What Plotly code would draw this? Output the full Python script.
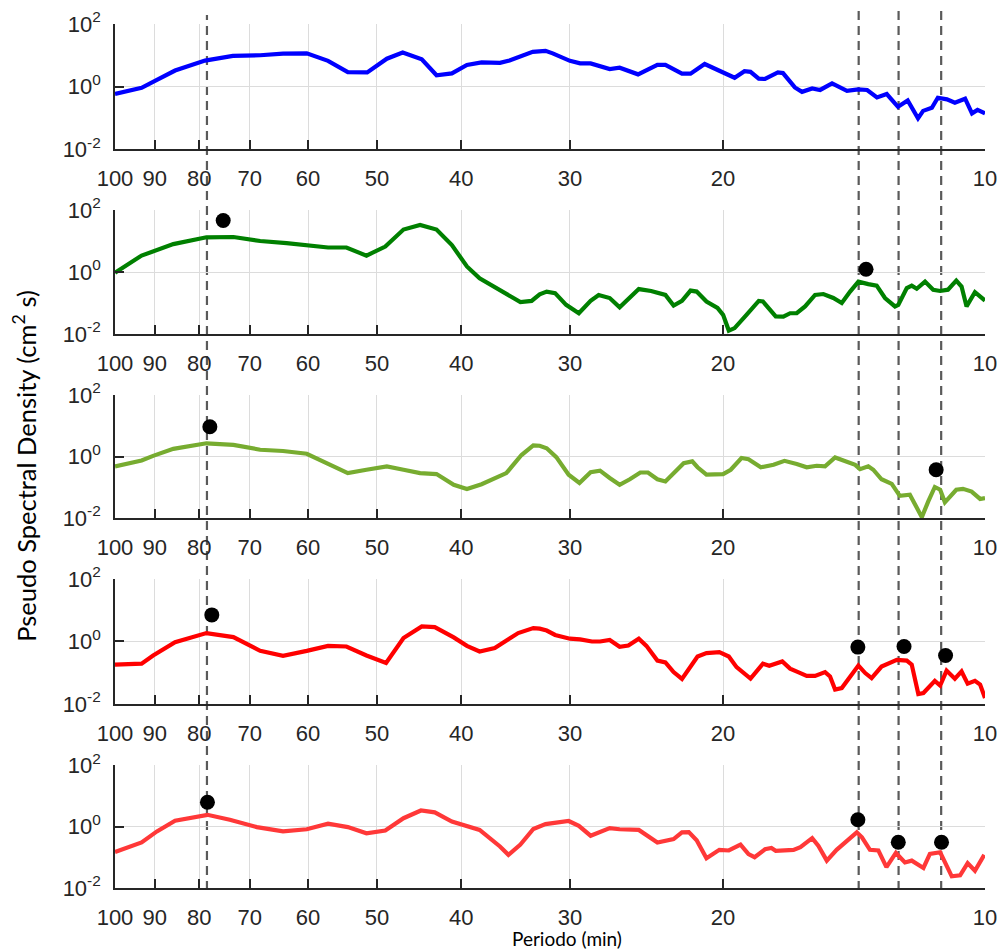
import plotly.graph_objects as go

# ---------------- data (period in min, PSD in cm^2 s) ----------------
p1_period = [100, 93.2, 89.5, 85.3, 78.8, 73.2, 68.1, 64.1, 60.2, 56.9, 54.0, 51.3, 48.7, 46.7, 44.4,
             42.7, 41.0, 39.4, 37.9, 36.1, 35.2, 33.1, 32.0, 31.4, 30.0, 29.2, 28.4, 27.0, 26.3, 25.05,
             23.8, 23.3, 22.3, 21.8, 21.0, 20.05, 19.4, 18.9, 18.6, 18.2, 17.9, 17.3, 17.07, 16.54, 16.23,
             15.8, 15.47, 14.99, 14.41, 13.99, 13.66, 13.31, 12.97, 12.59, 12.27, 11.94, 11.78, 11.51,
             11.33, 11.06, 10.83, 10.54, 10.35, 10.20, 10.0]
p1_psd = [0.575, 0.912, 1.62, 3.24, 6.76, 9.55, 10.0, 11.2, 11.5, 6.61, 2.88, 2.82, 7.76, 12.3, 7.41,
          2.29, 2.63, 4.90, 5.89, 5.75, 6.76, 12.9, 13.8, 11.5, 6.61, 5.50, 5.50, 3.63, 3.98, 2.45,
          4.90, 4.90, 2.57, 2.57, 5.25, 2.95, 1.91, 3.09, 2.95, 1.78, 1.74, 2.82, 2.69, 0.933, 0.676,
          0.871, 0.776, 1.26, 0.724, 0.813, 0.776, 0.447, 0.575, 0.224, 0.355, 0.0955, 0.166, 0.209,
          0.437, 0.389, 0.302, 0.407, 0.138, 0.178, 0.138]

p2_period = [100, 93.2, 85.7, 78.5, 73.1, 68.1, 63.5, 60.2, 56.9, 54.2, 51.4, 48.9, 46.6, 44.6, 42.7,
             41.0, 39.4, 38.1, 36.1, 34.2, 33.2, 32.5, 31.9, 31.2, 30.3, 29.3, 28.4, 27.8, 27.0, 26.3,
             25.0, 24.2, 23.3, 22.8, 22.3, 21.8, 21.45, 20.9, 20.3, 20.0, 19.7, 19.4, 18.8, 18.2, 18.0,
             17.4, 17.05, 16.75, 16.46, 16.1, 15.68, 15.34, 14.94, 14.61, 14.29, 13.98, 13.62, 13.32,
             13.03, 12.69, 12.58, 12.30, 12.14, 11.98, 11.72, 11.47, 11.26, 11.03, 10.79, 10.64, 10.50,
             10.27, 10.0]
p2_psd = [0.955, 3.39, 7.94, 13.2, 13.5, 10.0, 8.51, 7.08, 6.17, 6.17, 3.39, 6.61, 23.4, 33.1, 23.4,
          7.41, 1.51, 0.631, 0.269, 0.107, 0.117, 0.191, 0.234, 0.209, 0.0871, 0.0468, 0.117, 0.182,
          0.145, 0.0724, 0.282, 0.245, 0.182, 0.0832, 0.117, 0.251, 0.234, 0.112, 0.0692, 0.0417,
          0.0129, 0.0155, 0.0417, 0.117, 0.112, 0.0372, 0.0363, 0.0468, 0.0468, 0.0776, 0.182, 0.195,
          0.145, 0.100, 0.234, 0.490, 0.407, 0.363, 0.145, 0.0776, 0.0871, 0.302, 0.363, 0.288, 0.490,
          0.269, 0.245, 0.269, 0.525, 0.339, 0.0776, 0.224, 0.120]

p3_period = [100, 93.2, 90.4, 85.7, 78.5, 73.1, 68.1, 64.1, 60.2, 57.1, 54.0, 51.4, 48.7, 46.6, 44.6,
             42.7, 40.8, 39.4, 37.9, 35.5, 34.1, 33.05, 32.5, 31.9, 31.1, 30.1, 29.25, 28.4, 27.7, 27.0,
             26.3, 25.6, 24.9, 24.4, 23.8, 23.3, 22.8, 22.2, 21.7, 21.4, 20.9, 20.4, 20.0, 19.6, 19.05,
             18.7, 18.1, 17.5, 17.0, 16.46, 16.03, 15.61, 15.27, 14.87, 14.55, 14.10, 13.92, 13.62,
             13.44, 13.15, 12.80, 12.53, 12.20, 11.82, 11.62, 11.42, 11.26, 11.12, 10.79, 10.60, 10.36,
             10.13, 10.0]
p3_psd = [0.479, 0.741, 1.05, 1.78, 2.69, 2.40, 1.66, 1.51, 1.23, 0.603, 0.288, 0.372, 0.479, 0.372,
          0.288, 0.269, 0.120, 0.0871, 0.126, 0.288, 1.12, 2.29, 2.24, 1.86, 0.955, 0.257, 0.138, 0.309,
          0.347, 0.200, 0.120, 0.182, 0.302, 0.302, 0.182, 0.155, 0.288, 0.603, 0.692, 0.447, 0.257,
          0.269, 0.269, 0.372, 0.891, 0.813, 0.447, 0.537, 0.724, 0.575, 0.447, 0.501, 0.479, 0.933,
          0.724, 0.537, 0.389, 0.479, 0.372, 0.182, 0.129, 0.0525, 0.0575, 0.0107, 0.0347, 0.102,
          0.0832, 0.0324, 0.0832, 0.0891, 0.0724, 0.0417, 0.0447]

p4_period = [100, 93.2, 90.4, 85.3, 78.5, 73.1, 68.1, 64.1, 60.2, 56.9, 54.2, 51.4, 48.8, 46.6, 44.4,
             42.9, 40.8, 39.4, 38.1, 36.6, 34.4, 33.05, 32.5, 31.9, 31.2, 30.0, 29.2, 28.3, 27.7, 27.0,
             26.3, 25.7, 25.0, 24.5, 23.8, 23.3, 22.8, 22.3, 21.4, 20.9, 20.2, 19.7, 19.3, 19.05, 18.6,
             18.0, 17.7, 17.1, 16.75, 16.4, 16.03, 15.68, 15.27, 15.07, 14.87, 14.61, 14.29, 13.98,
             13.73, 13.50, 13.15, 12.86, 12.63, 12.30, 12.14, 11.93, 11.77, 11.42, 11.26, 11.07, 10.83,
             10.64, 10.47, 10.27, 10.13, 10.0]
p4_psd = [0.182, 0.195, 0.355, 0.955, 1.86, 1.38, 0.501, 0.347, 0.501, 0.724, 0.692, 0.355, 0.204,
          1.29, 3.02, 2.88, 1.35, 0.724, 0.479, 0.617, 1.86, 2.69, 2.57, 2.24, 1.62, 1.23, 1.17, 1.0,
          1.0, 1.12, 0.676, 0.741, 1.23, 0.724, 0.245, 0.214, 0.105, 0.0631, 0.331, 0.427, 0.457,
          0.331, 0.151, 0.115, 0.0646, 0.195, 0.166, 0.229, 0.135, 0.105, 0.0794, 0.0794, 0.105,
          0.0759, 0.0288, 0.0324, 0.0724, 0.170, 0.0977, 0.0676, 0.158, 0.204, 0.257, 0.245, 0.182,
          0.0209, 0.0224, 0.0550, 0.0389, 0.117, 0.0646, 0.110, 0.0447, 0.0550, 0.0417, 0.0155]

p5_period = [100, 93.2, 89.5, 85.3, 78.3, 73.8, 68.7, 64.1, 60.2, 56.9, 54.0, 51.4, 48.9, 46.6, 44.5,
             42.9, 41.0, 38.1, 36.1, 35.3, 34.2, 33.05, 32.0, 30.1, 29.3, 28.4, 27.0, 26.3, 25.0, 23.8,
             22.8, 22.3, 21.9, 21.45, 20.9, 20.2, 19.7, 19.1, 18.7, 18.4, 17.9, 17.6, 17.4, 16.6, 16.3,
             15.8, 15.54, 15.20, 14.81, 14.42, 14.04, 13.85, 13.56, 13.26, 12.98, 12.66, 12.36, 12.14,
             11.77, 11.57, 11.26, 10.92, 10.68, 10.47, 10.27, 10.02]
p5_psd = [0.148, 0.302, 0.692, 1.55, 2.40, 1.66, 0.955, 0.692, 0.813, 1.23, 0.955, 0.603, 0.741, 1.86,
          3.31, 2.88, 1.45, 0.776, 0.224, 0.120, 0.257, 0.832, 1.20, 1.51, 1.05, 0.501, 0.891, 0.813,
          0.776, 0.302, 0.389, 0.646, 0.661, 0.355, 0.0933, 0.174, 0.166, 0.257, 0.126, 0.100, 0.182,
          0.200, 0.162, 0.174, 0.214, 0.417, 0.234, 0.0776, 0.174, 0.324, 0.646, 0.447, 0.174, 0.166,
          0.0479, 0.138, 0.0676, 0.0776, 0.0447, 0.129, 0.145, 0.0240, 0.0257, 0.0646, 0.0363, 0.120]

# black peak markers per panel
dots2_period = [75.1, 13.7]
dots2_psd = [45.7, 1.23]
dots3_period = [77.8, 11.38]
dots3_psd = [9.33, 0.372]
dots4_period = [77.4, 14.0, 12.39, 11.1]
dots4_psd = [7.08, 0.661, 0.692, 0.355]
dots5_period = [78.3, 14.0, 12.58, 11.22]
dots5_psd = [6.17, 1.66, 0.309, 0.309]

# dashed reference periods
ref_periods = [78.4, 13.97, 12.57, 11.23]
ref_tops = [0.9943, 1.0, 1.0, 1.0]

x_ticks = [100, 90, 80, 70, 60, 50, 40, 30, 20, 10]
x_ticktext = ["100", "90", "80", "70", "60", "50", "40", "30", "20", "10"]
y_ticks = [0.01, 1, 100]
y_ticktext = ["10<sup>-2</sup>", "10<sup>0</sup>", "10<sup>2</sup>"]

colors = ["#0000FF", "#008000", "#77AC30", "#FF0000", "#FF3838"]

# ---------------- figure ----------------
W, H = 1000, 949
M_L, M_R, M_T, M_B = 115, 15, 10, 59
domains = [[0.8420, 0.9841], [0.6318, 0.7727], [0.4227, 0.5625], [0.2114, 0.3534], [0.0023, 0.1420]]

series = [(p1_period, p1_psd), (p2_period, p2_psd), (p3_period, p3_psd),
          (p4_period, p4_psd), (p5_period, p5_psd)]
dots = [None, (dots2_period, dots2_psd), (dots3_period, dots3_psd),
        (dots4_period, dots4_psd), (dots5_period, dots5_psd)]

fig = go.Figure()
tick_font = dict(family="Liberation Sans, Arial, sans-serif", size=22, color="#262626")

layout = dict(
    template="none",
    width=W, height=H,
    margin=dict(l=M_L, r=M_R, t=M_T, b=M_B, pad=0, autoexpand=False),
    paper_bgcolor="white", plot_bgcolor="rgba(0,0,0,0)",
    showlegend=False,
)

# background subplot (x / y) spanning the whole plotting area: dashed reference lines
layout["xaxis"] = dict(domain=[0, 1], anchor="y", type="log", range=[2, 1], visible=False,
                       fixedrange=True, automargin=False, showgrid=False, zeroline=False)
layout["yaxis"] = dict(domain=[0, 1], anchor="x", range=[0, 1], visible=False, fixedrange=True,
                       automargin=False, showgrid=False, zeroline=False)
for p, top in zip(ref_periods, ref_tops):
    fig.add_trace(go.Scatter(x=[p, p], y=[0, top], mode="lines", xaxis="x", yaxis="y",
                             line=dict(color="#5a5a5a", width=2.2, dash="9px,6px"),
                             hoverinfo="skip"))

for i in range(5):
    n = i + 2
    xa, ya = f"x{n}", f"y{n}"
    per, psd = series[i]
    fig.add_trace(go.Scatter(x=per, y=psd, mode="lines", xaxis=xa, yaxis=ya,
                             line=dict(color=colors[i], width=4.2), hoverinfo="skip"))
    if dots[i] is not None:
        fig.add_trace(go.Scatter(x=dots[i][0], y=dots[i][1], mode="markers", xaxis=xa, yaxis=ya,
                                 marker=dict(color="black", size=15, line=dict(width=0)),
                                 hoverinfo="skip"))
    layout[f"xaxis{n}"] = dict(
        domain=[0, 1], anchor=ya, type="log", range=[2, 1], automargin=False,
        tickmode="array", tickvals=x_ticks, ticktext=x_ticktext, tickfont=tick_font,
        showgrid=True, gridcolor="#dcdcdc", gridwidth=1,
        showline=True, linecolor="#262626", linewidth=1.6,
        ticks="inside", ticklen=9, tickwidth=1.6, tickcolor="#262626",
        zeroline=False, mirror=False, fixedrange=True, ticklabelstandoff=9,
    )
    layout[f"yaxis{n}"] = dict(
        domain=domains[i], anchor=xa, type="log", range=[-2, 2], automargin=False,
        tickmode="array", tickvals=y_ticks, ticktext=y_ticktext, tickfont=tick_font,
        showgrid=True, gridcolor="#dcdcdc", gridwidth=1,
        showline=True, linecolor="#262626", linewidth=1.6,
        ticks="inside", ticklen=9, tickwidth=1.6, tickcolor="#262626",
        zeroline=False, mirror=False, fixedrange=True, ticklabelstandoff=8,
    )

layout["annotations"] = [
    dict(text="Pseudo Spectral Density (cm<sup>2</sup> s)", xref="paper", yref="paper",
         x=-0.1046, y=0.482, xanchor="center", yanchor="middle", textangle=-90,
         showarrow=False, font=dict(family="Lato, sans-serif", size=25.5, color="#000000")),
    dict(text="Periodo (min)", xref="paper", yref="paper",
         x=0.5195, y=-0.0555, xanchor="center", yanchor="middle",
         showarrow=False, font=dict(family="Lato, sans-serif", size=19, color="#000000")),
]

fig.update_layout(**layout)
fig.write_html("out.html")
